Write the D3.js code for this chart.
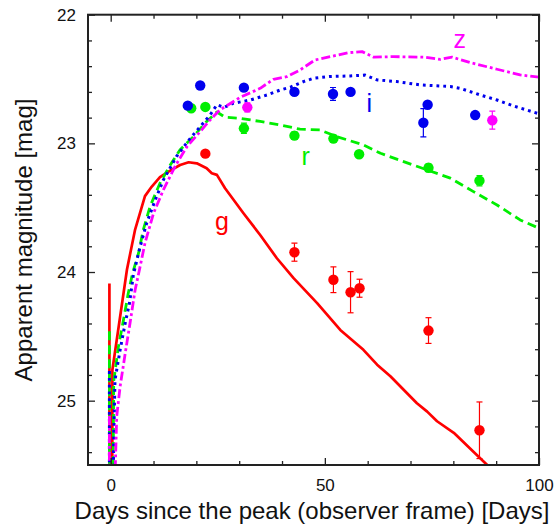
<!DOCTYPE html>
<html>
<head>
<meta charset="utf-8">
<script src="https://cdn.jsdelivr.net/npm/d3@7"></script>
<style>
  html, body { margin: 0; padding: 0; background: #fff; }
  svg { display: block; font-family: "Liberation Sans", Arial, sans-serif; }
</style>
</head>
<body>
<svg id="chart" width="558" height="525"></svg>
<script>
// ---------------- data ----------------
const xMajorTicks = [0, 50, 100];
const xMinorTicks = [10, 20, 30, 40, 60, 70, 80, 90];
const yMajorTicks = [22, 23, 24, 25];
const yMinorTicks = [22.2, 22.4, 22.6, 22.8, 23.2, 23.4, 23.6, 23.8, 24.2, 24.4, 24.6, 24.8, 25.2, 25.4];

// model light curves (days, magnitude)
const gModelDays = [-0.3, -0.3, 0.35, 0.4, 3.8, 5.7, 8.0, 9.6, 11.5, 13.5, 16.2, 18.2, 20.1, 22.4, 23.6, 24.8, 26.7, 31.0, 34.9, 38.8, 42.7, 48.2, 53.6, 59.0, 62.2, 65.3, 71.5, 73.9, 76.2, 80.1, 87.9, 90];
const gModelMag  = [24.09, 26.0, 26.0, 24.76, 23.98, 23.67, 23.41, 23.336, 23.263, 23.22, 23.168, 23.147, 23.155, 23.193, 23.232, 23.245, 23.349, 23.543, 23.712, 23.893, 24.048, 24.242, 24.45, 24.605, 24.72, 24.81, 25.02, 25.085, 25.16, 25.25, 25.5, 25.65];

const rModelDays = [-0.3, -0.3, 0.5, 0.7, 1.8, 3.0, 4.1, 5.1, 6.5, 7.6, 9.2, 11.5, 13.9, 16.2, 19.3, 22.4, 24.8, 26.7, 30.2, 34.9, 39.6, 44.2, 48.9, 52.8, 59.0, 63.0, 68.4, 73.9, 79.3, 84.7, 90.2, 95.6, 100];
const rModelMag  = [24.46, 26.0, 26.0, 24.85, 24.58, 24.37, 24.165, 24.01, 23.854, 23.673, 23.49, 23.31, 23.168, 23.05, 22.948, 22.83, 22.756, 22.797, 22.805, 22.83, 22.857, 22.89, 22.896, 22.948, 23.012, 23.077, 23.142, 23.207, 23.27, 23.375, 23.479, 23.595, 23.66];

const iModelDays = [-0.3, -0.3, 0.5, 0.7, 1.0, 2.2, 3.4, 4.4, 5.3, 6.9, 8.4, 10.4, 12.3, 15.4, 18.6, 20.9, 23.2, 24.8, 26.5, 28.7, 32.6, 36.5, 39.6, 41.9, 45.0, 47.4, 51.3, 55.9, 59.4, 62.2, 66.8, 72.3, 79.3, 81.6, 86.3, 90.2, 94.1, 100];
const iModelMag  = [24.77, 26.0, 26.0, 25.3, 24.84, 24.605, 24.395, 24.24, 24.02, 23.80, 23.62, 23.44, 23.284, 23.10, 22.96, 22.87, 22.78, 22.70, 22.72, 22.688, 22.663, 22.624, 22.585, 22.564, 22.52, 22.494, 22.48, 22.476, 22.469, 22.507, 22.52, 22.546, 22.558, 22.572, 22.624, 22.663, 22.71, 22.77];

const zModelDays = [-0.3, -0.3, 0.8, 1.0, 1.4, 2.2, 3.4, 4.5, 5.7, 6.7, 8.0, 10.0, 12.3, 15.0, 17.8, 20.9, 23.2, 25.5, 30.2, 34.9, 38.0, 41.1, 44.2, 47.7, 51.3, 55.5, 58.7, 61.4, 66.0, 73.1, 77.0, 79.7, 84.0, 90.2, 95.6, 100];
const zModelMag  = [25.12, 26.0, 26.0, 25.6, 25.124, 24.89, 24.63, 24.40, 24.14, 23.984, 23.776, 23.543, 23.362, 23.18, 23.026, 22.908, 22.818, 22.74, 22.643, 22.572, 22.502, 22.482, 22.43, 22.352, 22.326, 22.295, 22.287, 22.33, 22.326, 22.33, 22.347, 22.33, 22.373, 22.424, 22.468, 22.486];

// observed photometry (days, magnitude, error)
const gObsDays = [22.1, 42.9, 52.0, 56.0, 58.1, 74.2, 86.1];
const gObsMag  = [23.08, 23.846, 24.06, 24.157, 24.126, 24.455, 25.23];
const gObsErr  = [0.02, 0.07, 0.10, 0.16, 0.07, 0.10, 0.22];

const rObsDays = [18.8, 22.1, 31.1, 42.9, 52.0, 58.0, 74.2, 86.1];
const rObsMag  = [22.727, 22.717, 22.883, 22.94, 22.963, 23.085, 23.19, 23.29];
const rObsErr  = [0.02, 0.02, 0.04, 0.03, 0.025, 0.015, 0.03, 0.04];

const iObsDays = [18.0, 20.9, 31.1, 42.9, 51.9, 56.0, 74.0, 73.0, 85.1];
const iObsMag  = [22.707, 22.55, 22.567, 22.60, 22.616, 22.60, 22.70, 22.84, 22.78];
const iObsErr  = [0.015, 0.02, 0.02, 0.02, 0.05, 0.02, 0.02, 0.11, 0.02];

const zObsDays = [31.9, 89.1];
const zObsMag  = [22.72, 22.82];
const zObsErr  = [0.035, 0.07];

const bandNames = ["g", "r", "i", "z"];
const bandColors = ["#ff0000", "#00ee00", "#0000ee", "#ff00ff"];
const bandLabelDays = [26.0, 45.5, 60.4, 81.5];
const bandLabelMags = [23.67, 23.17, 22.76, 22.26];

// ---------------- layout ----------------
const svg = d3.select("#chart");
const L = 88, R = 539, T = 14.7, B = 465;
const x = d3.scaleLinear().domain([-5.3, 100]).range([L, R]);
const y = d3.scaleLinear().domain([22, 25.5]).range([T, B]);

svg.append("defs").append("clipPath").attr("id", "plotclip")
  .append("rect").attr("x", L).attr("y", T).attr("width", R - L).attr("height", B - T);

const plot = svg.append("g").attr("clip-path", "url(#plotclip)");

const models = [
  {days: gModelDays, mags: gModelMag, dash: null, w: 2.7},
  {days: rModelDays, mags: rModelMag, dash: "9,5", w: 2.8},
  {days: iModelDays, mags: iModelMag, dash: "2.8,4", w: 3},
  {days: zModelDays, mags: zModelMag, dash: "9,3,2.8,3", w: 2.8}
];
const line = d3.line().x(d => x(d[0])).y(d => y(d[1]));
models.forEach((m, k) => {
  const pts = m.days.map((d, j) => [d, m.mags[j]]);
  plot.append("path").datum(pts)
    .attr("d", line)
    .attr("fill", "none")
    .attr("stroke", bandColors[k])
    .attr("stroke-width", m.w)
    .attr("stroke-linejoin", "round")
    .attr("stroke-dasharray", m.dash);
});

// observed points
const obs = [
  {days: rObsDays, mags: rObsMag, errs: rObsErr, c: 1},
  {days: gObsDays, mags: gObsMag, errs: gObsErr, c: 0},
  {days: iObsDays, mags: iObsMag, errs: iObsErr, c: 2},
  {days: zObsDays, mags: zObsMag, errs: zObsErr, c: 3}
];
obs.forEach(o => {
  const data = o.days.map((d, j) => ({d, m: o.mags[j], e: o.errs[j]}));
  const col = bandColors[o.c];
  const g = plot.append("g");
  const eb = g.selectAll("g.eb").data(data).enter().append("g")
    .attr("stroke", col).attr("stroke-width", 1.2);
  eb.append("line").attr("x1", d => x(d.d)).attr("x2", d => x(d.d))
    .attr("y1", d => y(d.m - d.e)).attr("y2", d => y(d.m + d.e));
  eb.append("line").attr("x1", d => x(d.d) - 3).attr("x2", d => x(d.d) + 3)
    .attr("y1", d => y(d.m - d.e)).attr("y2", d => y(d.m - d.e));
  eb.append("line").attr("x1", d => x(d.d) - 3).attr("x2", d => x(d.d) + 3)
    .attr("y1", d => y(d.m + d.e)).attr("y2", d => y(d.m + d.e));
  g.selectAll("circle").data(data).enter().append("circle")
    .attr("cx", d => x(d.d)).attr("cy", d => y(d.m)).attr("r", 5.2)
    .attr("fill", col);
});

// band labels
bandNames.forEach((n, k) => {
  svg.append("text")
    .attr("x", x(bandLabelDays[k])).attr("y", y(bandLabelMags[k]))
    .attr("text-anchor", "middle")
    .attr("font-size", 25)
    .attr("fill", bandColors[k])
    .text(n);
});

// ---------------- axes ----------------
const axisColor = "#222";
function styleAxis(g) {
  g.select(".domain").remove();
  g.selectAll(".tick line").attr("stroke", axisColor).attr("stroke-width", 1.3);
  g.selectAll("text").attr("fill", "#111").attr("font-family", "Liberation Sans, Arial, sans-serif");
}
// bottom
svg.append("g").attr("transform", `translate(0,${B})`)
  .call(d3.axisBottom(x).tickValues(xMajorTicks).tickSize(-7).tickPadding(14).tickFormat(d3.format("d")))
  .call(styleAxis).selectAll("text").attr("font-size", 17);
svg.append("g").attr("transform", `translate(0,${B})`)
  .call(d3.axisBottom(x).tickValues(xMinorTicks).tickSize(-4).tickFormat(""))
  .call(styleAxis);
// top
svg.append("g").attr("transform", `translate(0,${T})`)
  .call(d3.axisTop(x).tickValues(xMajorTicks).tickSize(-7).tickFormat(""))
  .call(styleAxis);
svg.append("g").attr("transform", `translate(0,${T})`)
  .call(d3.axisTop(x).tickValues(xMinorTicks).tickSize(-4).tickFormat(""))
  .call(styleAxis);
// left
svg.append("g").attr("transform", `translate(${L},0)`)
  .call(d3.axisLeft(y).tickValues(yMajorTicks).tickSize(-7).tickPadding(12).tickFormat(d3.format("d")))
  .call(styleAxis).selectAll("text").attr("font-size", 17);
svg.append("g").attr("transform", `translate(${L},0)`)
  .call(d3.axisLeft(y).tickValues(yMinorTicks).tickSize(-4).tickFormat(""))
  .call(styleAxis);
// right
svg.append("g").attr("transform", `translate(${R},0)`)
  .call(d3.axisRight(y).tickValues(yMajorTicks).tickSize(-7).tickFormat(""))
  .call(styleAxis);
svg.append("g").attr("transform", `translate(${R},0)`)
  .call(d3.axisRight(y).tickValues(yMinorTicks).tickSize(-4).tickFormat(""))
  .call(styleAxis);

// frame
svg.append("rect").attr("x", L).attr("y", T).attr("width", R - L).attr("height", B - T)
  .attr("fill", "none").attr("stroke", axisColor).attr("stroke-width", 2);

// titles
svg.append("text")
  .attr("x", (75 + 549) / 2).attr("y", 519)
  .attr("text-anchor", "middle").attr("font-size", 24).attr("fill", "#111")
  .text("Days since the peak (observer frame) [Days]");
svg.append("text")
  .attr("transform", `translate(32,240) rotate(-90)`)
  .attr("text-anchor", "middle").attr("font-size", 24).attr("fill", "#111")
  .text("Apparent magnitude [mag]");
</script>
</body>
</html>
